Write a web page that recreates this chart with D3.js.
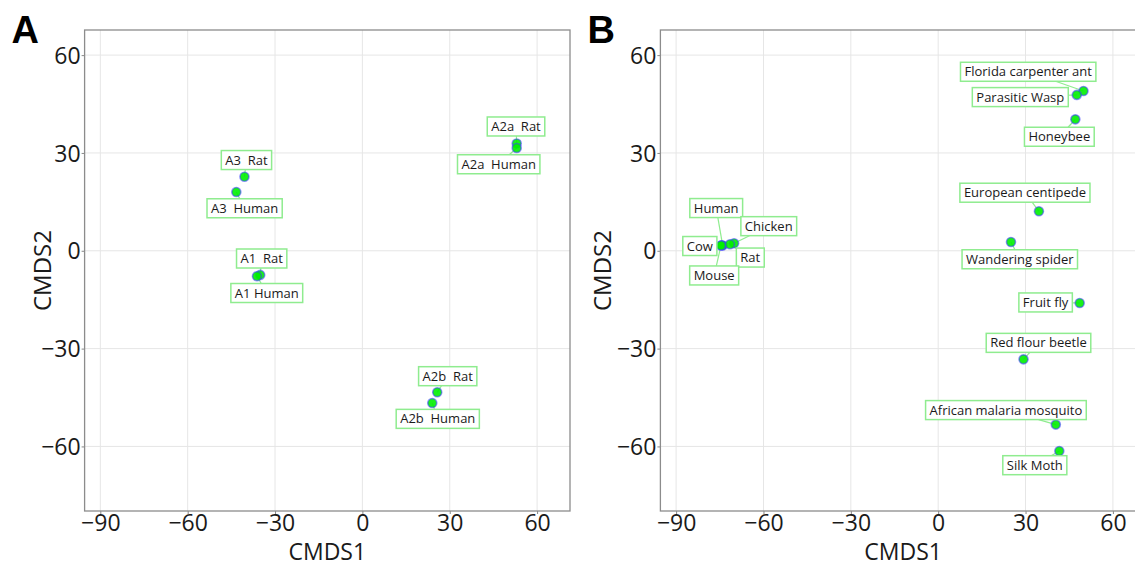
<!DOCTYPE html>
<html>
<head>
<meta charset="utf-8">
<script src="https://cdn.jsdelivr.net/npm/d3@7"></script>
<style>
  body { margin: 0; background: #fff; }
  text { font-family: "Open Sans", "Noto Sans", sans-serif; }
</style>
</head>
<body>
<svg id="chart" width="1135" height="563"></svg>
<script>
// Panel A: receptor subtypes
var geneNames = ["A3  Rat", "A3  Human", "A1  Rat", "A1 Human", "A2a  Rat", "A2a  Human", "A2b  Rat", "A2b  Human"];
var geneX = [-40.5, -43.3, -35.1, -36.2, 53.0, 53.0, 25.7, 24.0];
var geneY = [22.7, 18.0, -7.4, -7.8, 32.9, 31.5, -43.4, -46.7];

// Panel B: species
var speciesNames = ["Florida carpenter ant", "Parasitic Wasp", "Honeybee", "European centipede", "Wandering spider",
  "Fruit fly", "Red flour beetle", "African malaria mosquito", "Silk Moth",
  "Human", "Chicken", "Cow", "Rat", "Mouse"];
var speciesX = [49.9, 47.6, 47.1, 34.6, 25.0, 48.6, 29.3, 40.4, 41.6, -74.0, -70.1, -74.4, -71.5, -74.6];
var speciesY = [49.0, 47.8, 40.3, 12.1, 2.7, -16.0, -33.3, -53.3, -61.4, 1.6, 2.3, 1.7, 2.0, 1.6];

var xTicks = [-90, -60, -30, 0, 30, 60];
var yTicks = [-60, -30, 0, 30, 60];

// label placement (pixel nudges of the label box centre from its point, repel-style)
var geneNudge = [[2, -16.7], [8.3, 16.2], [1.5, -16.4], [9.8, 16.8], [-0.7, -17], [-18, 16.2], [10.5, -16.1], [5.5, 15.8]];
var speciesNudge = [[-55.3, -19.2], [-56.5, 2.2], [-16, 17.4], [-14, -18.6], [8.8, 17.3],
  [-34.1, -0.5], [15, -16.5], [-49.9, -14.5], [-24.5, 14.2],
  [-6.5, -37.5], [34.7, -17.1], [-21.7, 0.8], [20.3, 13.3], [-6.8, 29.9]];

var svg = d3.select("#chart");
var plotW = 485.4, plotH = 481;

function drawPanel(left, top, letter, names, xs, ys, nudges, yTitleX) {
  var x = d3.scaleLinear().domain([-95.4, 71.3]).range([0, plotW]);
  var y = d3.scaleLinear().domain([-79.8, 67.7]).range([plotH, 0]);
  var g = svg.append("g").attr("transform", `translate(${left}, ${top})`);

  // grid
  g.selectAll(".gx").data(xTicks).enter().append("line")
    .attr("x1", d => x(d)).attr("x2", d => x(d))
    .attr("y1", 0).attr("y2", plotH)
    .attr("stroke", "#e6e6e6").attr("stroke-width", 1);
  g.selectAll(".gy").data(yTicks).enter().append("line")
    .attr("y1", d => y(d)).attr("y2", d => y(d))
    .attr("x1", 0).attr("x2", plotW)
    .attr("stroke", "#e6e6e6").attr("stroke-width", 1);

  // axes
  var xAxis = g.append("g").attr("transform", `translate(0, ${plotH})`)
    .call(d3.axisBottom(x).tickValues(xTicks).tickSize(3).tickSizeOuter(0).tickFormat(d3.format("d")));
  var yAxis = g.append("g")
    .call(d3.axisLeft(y).tickValues(yTicks).tickSize(3).tickSizeOuter(0).tickFormat(d3.format("d")));
  [xAxis, yAxis].forEach(function(a) {
    a.select(".domain").remove();
    a.selectAll("line").attr("stroke", "#888");
    a.selectAll("text").attr("fill", "#1a1a1a").style("font-size", "23px")
      .style("font-family", "\"Open Sans\", sans-serif");
  });
  xAxis.selectAll("text").attr("dy", "0.8em").attr("y", 2);
  yAxis.selectAll("text").attr("x", -4).attr("dy", "0.35em");

  // border
  g.append("rect").attr("width", plotW).attr("height", plotH)
    .attr("fill", "none").attr("stroke", "#8c8c8c").attr("stroke-width", 1.3);

  // titles
  svg.append("text").attr("x", left + plotW / 2).attr("y", 560)
    .attr("text-anchor", "middle").attr("fill", "#1a1a1a").style("font-size", "23px").text("CMDS1");
  svg.append("text").attr("transform", `translate(${yTitleX}, ${top + plotH / 2}) rotate(-90)`)
    .attr("text-anchor", "middle").attr("fill", "#1a1a1a").style("font-size", "24px").text("CMDS2");
  svg.append("text").attr("x", left - 73).attr("y", 43)
    .style("font-family", "\"Liberation Sans\", Arial, sans-serif").style("font-weight", "bold")
    .style("font-size", "38px").attr("fill", "#000").text(letter);

  var pts = names.map(function(n, i) {
    return { name: n, px: x(xs[i]), py: y(ys[i]), cx: x(xs[i]) + nudges[i][0], cy: y(ys[i]) + nudges[i][1] };
  });

  var segG = g.append("g"), ptG = g.append("g"), labG = g.append("g");

  pts.forEach(function(p) {
    var lg = labG.append("g");
    var rect = lg.append("rect");
    var t = lg.append("text").attr("x", p.cx).attr("y", p.cy).attr("dy", "0.35em")
      .attr("text-anchor", "middle").attr("fill", "#1a1a1a").style("font-size", "13px")
      .style("white-space", "pre").attr("xml:space", "preserve").text(p.name);
    var w = t.node().getComputedTextLength() + 8, h = 19;
    rect.attr("x", p.cx - w / 2).attr("y", p.cy - h / 2).attr("width", w).attr("height", h)
      .attr("fill", "#fff").attr("stroke", "#8fec8f").attr("stroke-width", 1.5);

    // segment from point to box edge
    var dx = p.px - p.cx, dy = p.py - p.cy;
    var sx = Math.abs(dx) > 0 ? (w / 2) / Math.abs(dx) : Infinity;
    var sy = Math.abs(dy) > 0 ? (h / 2) / Math.abs(dy) : Infinity;
    var s = Math.min(sx, sy);
    if (s < 1) {
      segG.append("line")
        .attr("x1", p.px).attr("y1", p.py)
        .attr("x2", p.cx + dx * s).attr("y2", p.cy + dy * s)
        .attr("stroke", "#8fec8f").attr("stroke-width", 1.2);
    }
  });

  ptG.selectAll("circle").data(pts).enter().append("circle")
    .attr("cx", d => d.px).attr("cy", d => d.py).attr("r", 4.5)
    .attr("fill", "rgba(0,240,0,0.9)")
    .attr("stroke", "rgba(60,60,255,0.55)").attr("stroke-width", 1.6);
}

drawPanel(84.6, 30, "A", geneNames, geneX, geneY, geneNudge, 51);
drawPanel(660.4, 30, "B", speciesNames, speciesX, speciesY, speciesNudge, 611);
</script>
</body>
</html>
